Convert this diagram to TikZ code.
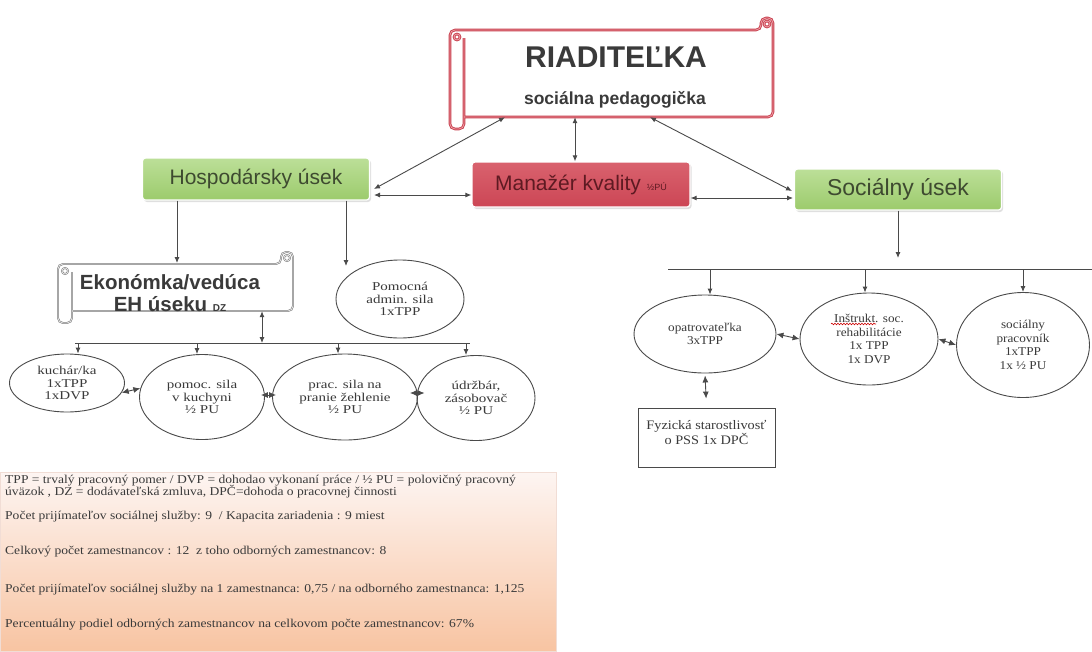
\documentclass[tikz,border=0pt]{standalone}
\usepackage{fontspec}
\setmainfont{Liberation Serif}
\newfontfamily\arialf{Liberation Sans}
\newfontfamily\serifwide{Liberation Serif}[FakeStretch=1.25]
\newfontfamily\serifmid{Liberation Serif}[FakeStretch=1.1]
\newfontfamily\serifleg{Liberation Serif}[FakeStretch=1.13]
\usetikzlibrary{shapes.geometric,arrows.meta,shadows,calc,decorations.pathmorphing}
\definecolor{scrollred}{HTML}{C8404E}
\definecolor{scrollpink}{HTML}{EFA0A8}
\definecolor{greenfill}{HTML}{9CCB6C}
\definecolor{greentop}{HTML}{BCDF98}
\definecolor{greentext}{HTML}{3E4A30}
\definecolor{redfill}{HTML}{CC4655}
\definecolor{redtop}{HTML}{D9626E}
\definecolor{redtext}{HTML}{5E1A22}
\definecolor{linegray}{HTML}{4A4A4A}
\definecolor{textgray}{HTML}{3A3A3A}
\definecolor{legtop}{HTML}{FDF5F2}
\definecolor{legbot}{HTML}{F8C4A2}
\definecolor{legborder}{HTML}{F1DDD5}
\newcommand\fs[2]{\fontsize{#1}{#2}\selectfont}
% #1 style, #2 left x, #3 top y, #4 right x, #5 bottom y
\newcommand\hscroll[5]{%
  \draw[#1, rounded corners=5pt] ({#2+14},{#5}) -- ({#4},{#5}) -- ({#4},{#3-12}) -- ({#4-12},{#3-12}) -- ({#4-12},{#3}) -- ({#2},{#3}) -- ({#2},{#5+12}) -- ({#2+14},{#5+12}) -- ({#2+14},{#3+8});
  \draw[#1] ({#2+7},{#3+7}) circle[radius=3pt];
  \draw[#1] ({#4-6},{#3-6}) circle[radius=3pt];
}
\tikzset{
  conn/.style={draw=linegray, line width=0.9pt, -{Latex[length=6pt,width=5pt]}},
  dconn/.style={draw=linegray, line width=0.9pt, {Latex[length=6pt,width=5pt]}-{Latex[length=6pt,width=5pt]}},
  dconnb/.style={draw=linegray, line width=0.9pt, {Latex[length=7pt,width=6pt]}-{Latex[length=7pt,width=6pt]}},
  plainline/.style={draw=linegray, line width=0.9pt},
  greenbox/.style={draw=white, line width=1.2pt, rounded corners=3pt, top color=greentop, bottom color=greenfill, text=greentext, font=\arialf\fs{21}{24}, inner sep=0pt, drop shadow={opacity=0.25, shadow xshift=1.5pt, shadow yshift=-2pt}},
  redbox/.style={draw=white, line width=1.2pt, rounded corners=3pt, top color=redtop, bottom color=redfill, text=redtext, font=\arialf\fs{21}{24}, inner sep=0pt, drop shadow={opacity=0.25, shadow xshift=1.5pt, shadow yshift=-2pt}},
  oval/.style={ellipse, draw=linegray, line width=0.9pt, inner sep=0pt, align=center, text=textgray, font=\serifwide\fs{12}{12.5}},
  ovalb/.style={oval, font=\serifmid\fs{12}{13.5}},
  redscroll/.style={draw=scrollred, double=scrollpink, double distance=0.8pt, line width=0.9pt},
  grayscroll/.style={draw=gray, double=white!93!black, double distance=0.7pt, line width=0.6pt},
  hidden/.style={inner sep=0pt},
  legtext/.style={anchor=west, text=textgray, font=\serifleg\fs{12}{13}, inner sep=0pt},
}
\begin{document}
\begin{tikzpicture}[x=1pt,y=-1pt]
\useasboundingbox (0,0) rectangle (1092,651);
\fill[white] (0,0) rectangle (1092,651);

% ---- top scroll
\hscroll{redscroll}{450}{30}{773}{117}
\node[hidden, minimum width=308pt, minimum height=87pt] (riad) at (619,73.5) {};
\node[font=\arialf\bfseries\fs{30}{34}, text=textgray] (riadt) at (616,57) {RIADITEĽKA};
\node[font=\arialf\bfseries\fs{17.5}{19}, text=textgray] (riads) at (615,100) {sociálna pedagogička};

% ---- second level
\node[greenbox, minimum width=227pt, minimum height=42pt] (hosp) at (256,179) {Hospodársky úsek};
\node[redbox, minimum width=218pt, minimum height=45pt] (man) at (581,184.5) {Manažér kvality {\fs{9}{10}½PÚ}};
\node[greenbox, minimum width=207pt, minimum height=41pt, font=\arialf\fs{23}{26}] (soc) at (898,189.5) {Sociálny úsek};

\coordinate (hl1) at (374,189);
\coordinate (hl2) at (374,195);
\coordinate (sl1) at (792,191);
\coordinate (sl2) at (793,198);
\draw[dconn] ([xshift=-114pt]riad.south) -- (hl1);
\draw[dconn] (man.west |- hl2) -- (hl2);
\draw[dconn] ([xshift=31pt]riad.south) -- (sl1);
\draw[dconn] (man.east |- sl2) -- (sl2);
\draw[dconn] ([xshift=-44pt]riad.south) -- ([xshift=-6pt]man.north);

% ---- left branch
\hscroll{grayscroll}{58}{264}{293}{311}
\node[hidden, minimum width=223pt, minimum height=47pt] (ekon) at (181,287.5) {};
\node[font=\arialf\bfseries\fs{20.5}{22}, text=textgray, align=center] (ekont) at (170,293) {Ekonómka/vedúca\\EH úseku {\fs{10}{12}DZ}};
\coordinate (ekontop) at (177,263);
\draw[conn] (hosp.south -| ekontop) -- (ekontop);

\node[oval, minimum width=128pt, minimum height=78pt] (pom) at (400,299) {Pomocná\\admin. sila\\1xTPP};
\coordinate (pomtop) at (346,266);
\draw[conn] (hosp.south -| pomtop) -- (pomtop);

\coordinate (lbL) at (75,343);
\coordinate (lbR) at (470,343);
\draw[plainline] (lbL) -- (lbR);
\draw[dconn] ([xshift=81pt]ekon.south) -- ([xshift=81pt]ekon.south |- lbL);

\node[oval, minimum width=115pt, minimum height=58pt] (k1) at (67,383) {kuchár/ka\\1xTPP\\1xDVP};
\node[oval, minimum width=125pt, minimum height=85pt] (k2) at (202,397) {pomoc. sila\\v kuchyni\\½ PU};
\node[oval, minimum width=145pt, minimum height=86pt] (k3) at (345,397) {prac. sila na\\pranie žehlenie\\½ PU};
\node[oval, minimum width=118pt, minimum height=85pt] (k4) at (476,398) {údržbár,\\zásobovač\\½ PU};
\draw[conn] ([xshift=11pt]k1.north |- lbL) -- ([xshift=11pt]k1.north);
\draw[conn] ([xshift=-5pt]k2.north |- lbL) -- ([xshift=-5pt]k2.north);
\draw[conn] ([xshift=-7pt]k3.north |- lbL) -- ([xshift=-7pt]k3.north);
\draw[conn] ([xshift=-10pt]k4.north |- lbL) -- ([xshift=-10pt]k4.north);
\draw[dconnb] (k1.-10) -- (k2.172);
\draw[dconnb] ([xshift=-4pt,yshift=2pt]k2.east) -- ([xshift=4pt,yshift=2pt]k3.west);
\draw[dconnb] ([xshift=-8pt,yshift=4pt]k3.east) -- ([xshift=8pt,yshift=5pt]k4.west);

% ---- right branch
\coordinate (rbL) at (668,269);
\coordinate (rbR) at (1092,269);
\draw[plainline] (rbL) -- (rbR);
\draw[conn] (soc.south) -- ([yshift=11pt]soc.south |- rbL);

\node[ovalb, minimum width=142pt, minimum height=78pt] (opat) at (705,334) {opatrovateľka\\3xTPP};
\node[ovalb, minimum width=138pt, minimum height=92pt] (instr) at (869,339) {Inštrukt. soc.\\rehabilitácie\\1x TPP\\1x DVP};
\node[ovalb, minimum width=133pt, minimum height=105pt] (socp) at (1023,345) {sociálny\\pracovník\\1xTPP\\1x ½ PU};
\draw[red!80!black, line width=0.6pt, decorate, decoration={snake, amplitude=0.8pt, segment length=3pt}] ([xshift=-38pt,yshift=15pt]instr.center) -- ([xshift=7pt,yshift=15pt]instr.center);
\draw[conn] ([xshift=5pt]opat.north |- rbL) -- ([xshift=5pt]opat.north);
\draw[conn] ([xshift=-4pt]instr.north |- rbL) -- ([xshift=-4pt]instr.north);
\draw[conn] (socp.north |- rbL) -- (socp.north);
\draw[dconnb] (opat.east) -- (instr.west);
\draw[dconnb] (instr.east) -- (socp.west);

\node[draw=linegray, line width=0.8pt, minimum width=137pt, minimum height=59pt, inner sep=0pt] (fyz) at (706.5,437.5) {};
\node[anchor=north, align=center, text=textgray, font=\serifmid\fs{13}{15}] (fyzt) at ([yshift=-9pt]fyz.north) {Fyzická starostlivosť\\o PSS 1x DPČ};
\draw[dconnb, shorten >=9pt, shorten <=2pt] (opat.south) -- (fyz.north);

% ---- legend
\draw[legborder, top color=legtop, bottom color=legbot] (0,472) rectangle (556,651);
\node[legtext] (l1) at (5,481) {TPP = trvalý pracovný pomer / DVP = dohodao vykonaní práce / ½ PU = polovičný pracovný};
\node[legtext] (l2) at (5,492) {úväzok , DZ = dodávateľská zmluva, DPČ=dohoda o pracovnej činnosti};
\node[legtext] (l3) at (5,517) {Počet prijímateľov sociálnej služby: 9 \ / Kapacita zariadenia : 9 miest};
\node[legtext] (l4) at (5,552) {Celkový počet zamestnancov : 12 \ z toho odborných zamestnancov: 8};
\node[legtext] (l5) at (5,590) {Počet prijímateľov sociálnej služby na 1 zamestnanca: 0,75 / na odborného zamestnanca: 1,125};
\node[legtext] (l6) at (5,625) {Percentuálny podiel odborných zamestnancov na celkovom počte zamestnancov: 67\%};
\end{tikzpicture}
\end{document}
